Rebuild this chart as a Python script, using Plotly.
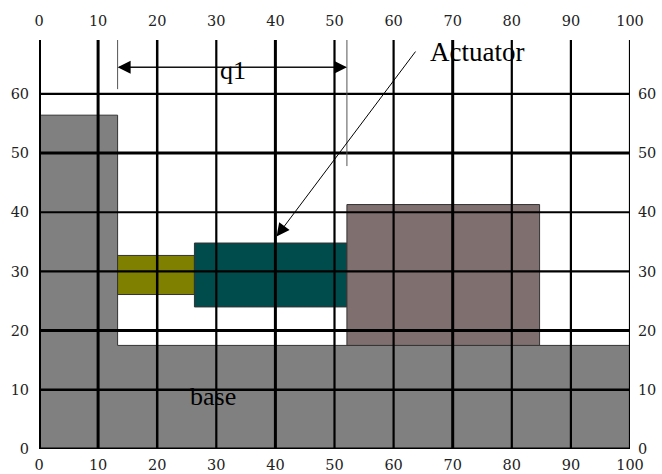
import plotly.graph_objects as go

x_ticks = [0, 10, 20, 30, 40, 50, 60, 70, 80, 90, 100]
y_ticks = [0, 10, 20, 30, 40, 50, 60]
y_top = 69.1

base_x = [0, 13.3, 13.3, 100, 100, 0, 0]
base_y = [56.4, 56.4, 17.5, 17.5, 0, 0, 56.4]
rod_x = [13.3, 26.3, 26.3, 13.3, 13.3]
rod_y = [32.7, 32.7, 26.1, 26.1, 32.7]
cyl_x = [26.3, 52.1, 52.1, 26.3, 26.3]
cyl_y = [34.8, 34.8, 24.0, 24.0, 34.8]
load_x = [52.1, 84.7, 84.7, 52.1, 52.1]
load_y = [41.3, 41.3, 17.5, 17.5, 41.3]

q1_y = 64.5
q1_left = 13.3
q1_right = 52.1
q1_left_ext = [60.8, 69.5]
q1_right_ext = [47.8, 69.5]
act_from = (63.9, 67.4)
act_to = (40.2, 35.9)

GRAY, OLIVE, TEAL, MAUVE = "#808080", "#808000", "#004c4c", "#806f6f"
x_widths = {0: 4, 10: 3, 20: 2.5, 30: 2.2, 40: 3, 50: 2.2, 60: 2.2, 70: 3, 80: 2.2, 90: 2.2, 100: 2.2}
y_widths = {0: 3, 10: 2.5, 20: 3, 30: 2.2, 40: 2.2, 50: 3, 60: 2.2}
TICKFONT = dict(family="DejaVu Serif", size=14.5, color="#222222")

fig = go.Figure()
for xs, ys, col in [(base_x, base_y, GRAY), (rod_x, rod_y, OLIVE), (cyl_x, cyl_y, TEAL), (load_x, load_y, MAUVE)]:
    fig.add_trace(go.Scatter(x=xs, y=ys, mode="lines", fill="toself", fillcolor=col,
                             line=dict(color="#333333", width=1), hoverinfo="skip", showlegend=False))

for v in x_ticks:
    fig.add_trace(go.Scatter(x=[v, v], y=[0, y_top], xaxis="x2", yaxis="y2", mode="lines",
                             line=dict(color="black", width=x_widths[v]), showlegend=False, cliponaxis=False))
for v in y_ticks:
    fig.add_trace(go.Scatter(x=[0, 100], y=[v, v], xaxis="x2", yaxis="y2", mode="lines",
                             line=dict(color="black", width=y_widths[v]), showlegend=False, cliponaxis=False))

for xv, ext in [(q1_left, q1_left_ext), (q1_right, q1_right_ext)]:
    fig.add_trace(go.Scatter(x=[xv, xv], y=ext, xaxis="x2", yaxis="y2", mode="lines",
                             line=dict(color="#555555", width=1), showlegend=False, cliponaxis=False))

axis_common = dict(showgrid=False, zeroline=False, showline=False, tickfont=TICKFONT, automargin=False,
                   ticks="outside", tickcolor="rgba(0,0,0,0)", tickwidth=1)
fig.update_layout(
    width=662, height=474, autosize=False, paper_bgcolor="white", plot_bgcolor="white", showlegend=False,
    margin=dict(l=38.5, r=31.5, t=39.5, b=25, pad=0, autoexpand=False),
    xaxis=dict(range=[0, 100], tickvals=x_ticks, ticklen=3, side="bottom", **axis_common),
    yaxis=dict(range=[0, y_top], tickvals=y_ticks, ticklen=6, side="left", **axis_common),
    xaxis2=dict(range=[0, 100], tickvals=x_ticks, ticklen=7, side="top", overlaying="x", **axis_common),
    yaxis2=dict(range=[0, y_top], tickvals=y_ticks, ticklen=4, side="right", overlaying="y", **axis_common),
)

arrow = dict(xref="x2", yref="y2", axref="x2", ayref="y2", showarrow=True, text="",
             arrowhead=2, arrowsize=2.6, arrowwidth=1, arrowcolor="black")
fig.add_annotation(x=q1_left, y=q1_y, ax=q1_right, ay=q1_y, **arrow)
fig.add_annotation(x=q1_right, y=q1_y, ax=q1_left, ay=q1_y, **arrow)
fig.add_annotation(x=act_to[0], y=act_to[1], ax=act_from[0], ay=act_from[1], **arrow)

text = dict(xref="x2", yref="y2", showarrow=False)
fig.add_annotation(x=74.1, y=67.0, text="Actuator", font=dict(family="Liberation Serif", size=27, color="black"), **text)
fig.add_annotation(x=32.9, y=64.0, text="q1", font=dict(family="Liberation Serif", size=26, color="black"), **text)
fig.add_annotation(x=29.5, y=8.9, text="base", font=dict(family="Liberation Serif", size=26, color="black"), **text)

fig.write_html("out.html", config={"displayModeBar": False}, post_script="document.body.style.margin='0';")
